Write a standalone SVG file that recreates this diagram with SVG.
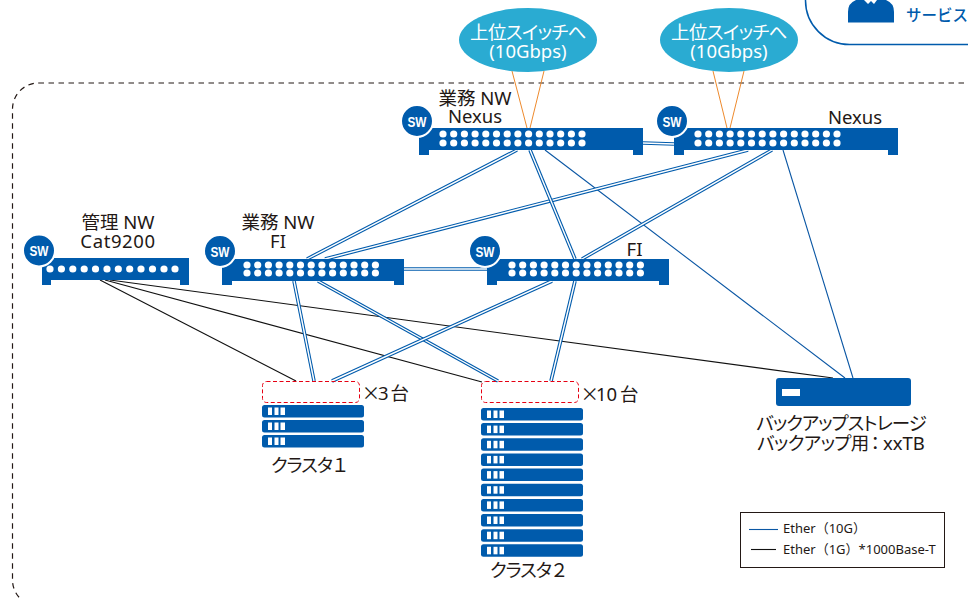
<svg xmlns="http://www.w3.org/2000/svg" width="968" height="600" viewBox="0 0 968 600">
<style>
text{font-family:"Noto Sans","Noto Sans CJK JP",sans-serif;font-size:18.5px;fill:#231815;text-anchor:middle;font-feature-settings:"palt"}
.sw{fill:#005BAC}
.dot{fill:#fff}
.swc{fill:#005BAC;stroke:#fff;stroke-width:2}
text.swt{font-family:"Liberation Sans",sans-serif;font-size:15px;font-weight:bold;fill:#fff;text-anchor:middle}
.or{stroke:#EE8A2D;stroke-width:1;fill:none}
.b1{stroke:#0B57A4;stroke-width:1.1;fill:none}
.k1{stroke:#111;stroke-width:1.1;fill:none}
.d1{stroke:#005BAC;stroke-width:3.6;fill:none}
.d2{stroke:#fff;stroke-width:1.4;fill:none}
.el{fill:#2AABD2}
text.elt{fill:#fff}
.srv{fill:#005BAC}
.win{fill:#fff}
.red{fill:none;stroke:#E60012;stroke-width:1;stroke-dasharray:4 2.5}
text.lg{font-size:13px;text-anchor:start;font-feature-settings:normal}
text.co{font-size:15.5px;font-weight:500;fill:#005BAC;text-anchor:start;font-feature-settings:normal}
text.st{text-anchor:start}
.fw{font-family:"Noto Sans CJK JP",sans-serif;font-feature-settings:normal}
</style>
<defs>
<path id="p2" d="M0 0H224V27H214V22H10V27H0Z" class="sw"/>
<g id="row14"><circle cx="0" r="3.6" class="dot"/><circle cx="10.7" r="3.6" class="dot"/><circle cx="21.4" r="3.6" class="dot"/><circle cx="32.1" r="3.6" class="dot"/><circle cx="42.8" r="3.6" class="dot"/><circle cx="53.5" r="3.6" class="dot"/><circle cx="64.2" r="3.6" class="dot"/><circle cx="74.9" r="3.6" class="dot"/><circle cx="85.6" r="3.6" class="dot"/><circle cx="96.3" r="3.6" class="dot"/><circle cx="107" r="3.6" class="dot"/><circle cx="117.7" r="3.6" class="dot"/><circle cx="128.4" r="3.6" class="dot"/></g>
<g id="srv"><rect width="102" height="12.5" rx="2.5" class="srv"/><rect x="6" y="2.5" width="4" height="7.5" class="win"/><rect x="12.5" y="2.5" width="4" height="7.5" class="win"/><rect x="18.5" y="2.5" width="4.5" height="7.5" class="win"/></g>
</defs>
<rect x="12.5" y="83" width="1000" height="523" rx="26" fill="none" stroke="#231815" stroke-width="1.2" stroke-dasharray="5.5 4.5"/>
<g id="connectors">
<path class="or" d="M512 71L527 128M544 71L530 128M713 71L727 128M744 71L730 128"/>
<path class="k1" d="M100 280L296 381M105 280L482 382M110 280L833 378"/>
<path class="b1" d="M545 150L845 378M783 150L853 378"/>
<path class="d1" d="M517 150L307 259"/><path class="d2" d="M517 150L307 259"/>
<path class="d1" d="M748 150L325 259"/><path class="d2" d="M748 150L325 259"/>
<path class="d1" d="M772 150L582 259"/><path class="d2" d="M772 150L582 259"/>
<path class="d1" d="M530 150L575 259"/><path class="d2" d="M530 150L575 259"/>
<path class="d1" d="M643 143L674 144"/><path class="d2" d="M643 143L674 144"/>
<path class="d1" d="M404 269H487"/><path class="d2" d="M404 269H487"/>
<path class="d1" d="M294 281L314 381"/><path class="d2" d="M294 281L314 381"/>
<path class="d1" d="M318 281L498 381"/><path class="d2" d="M318 281L498 381"/>
<path class="d1" d="M552 281L332 381"/><path class="d2" d="M552 281L332 381"/>
<path class="d1" d="M575 281L551 381"/><path class="d2" d="M575 281L551 381"/>
</g>
<g id="callout">
<rect x="805.500" y="-60" width="300" height="104.500" rx="44" fill="#fff" stroke="#005BAC" stroke-width="1.5"/>
<path d="M848 22.500V12Q848 3 856 0H864L868 4L871 1L874 4L877 0H886Q894 3 894 12V22.500Z" fill="#005BAC"/>
<text x="906" y="21" class="co">サービス</text>
</g>
<g id="uplink1"><ellipse cx="528" cy="40" rx="69" ry="32" class="el"/><text x="528" y="39" class="elt" letter-spacing="-0.6">上位スイッチへ</text><text x="528" y="58" class="elt">(10Gbps)</text></g>
<g id="uplink2"><ellipse cx="729" cy="40" rx="69" ry="32" class="el"/><text x="729" y="39" class="elt" letter-spacing="-0.6">上位スイッチへ</text><text x="729" y="58" class="elt">(10Gbps)</text></g>
<g id="nexus1">
<use href="#p2" x="419" y="128"/>
<use href="#row14" x="443" y="134"/><circle cx="582" cy="134" r="3.6" class="dot"/>
<use href="#row14" x="443" y="143"/><circle cx="582" cy="143" r="3.6" class="dot"/>
<circle cx="417" cy="121" r="16" class="swc"/><text x="417" y="126.500" class="swt" textLength="19" lengthAdjust="spacingAndGlyphs">SW</text>
<text x="475" y="105">業務 NW</text><text x="475" y="123">Nexus</text>
</g>
<g id="nexus2">
<use href="#p2" x="674" y="128"/>
<use href="#row14" x="698" y="134"/><circle cx="837" cy="134" r="3.6" class="dot"/>
<use href="#row14" x="698" y="143"/><circle cx="837" cy="143" r="3.6" class="dot"/>
<circle cx="672" cy="121" r="16" class="swc"/><text x="672" y="126.500" class="swt" textLength="19" lengthAdjust="spacingAndGlyphs">SW</text>
<text x="855" y="124">Nexus</text>
</g>
<g id="cat9200">
<path class="sw" d="M42 258H189V285H180V280H51V285H42Z"/>
<g class="dot"><circle cx="50" cy="269" r="3.6"/><circle cx="61.400" cy="269" r="3.6"/><circle cx="72.800" cy="269" r="3.6"/><circle cx="84.200" cy="269" r="3.6"/><circle cx="95.500" cy="269" r="3.6"/><circle cx="107" cy="269" r="3.6"/><circle cx="118.300" cy="269" r="3.6"/><circle cx="129.700" cy="269" r="3.6"/><circle cx="141" cy="269" r="3.6"/><circle cx="152.500" cy="269" r="3.6"/><circle cx="164" cy="269" r="3.6"/><circle cx="175" cy="269" r="3.6"/></g>
<circle cx="39" cy="250.500" r="16" class="swc"/><text x="39" y="256" class="swt" textLength="19" lengthAdjust="spacingAndGlyphs">SW</text>
<text x="118" y="229">管理 NW</text><text x="118" y="248" letter-spacing="0.6">Cat9200</text>
</g>
<g id="fi1">
<path class="sw" d="M222 259H404V285H394V281H232V285H222Z"/>
<use href="#row14" x="247" y="265"/>
<use href="#row14" x="247" y="273"/>
<circle cx="220" cy="251" r="16" class="swc"/><text x="220" y="256.500" class="swt" textLength="19" lengthAdjust="spacingAndGlyphs">SW</text>
<text x="278" y="229">業務 NW</text><text x="278" y="248">FI</text>
</g>
<g id="fi2">
<path class="sw" d="M487 259H669V285H659V281H497V285H487Z"/>
<use href="#row14" x="512" y="265"/>
<use href="#row14" x="512" y="273"/>
<circle cx="485" cy="251" r="16" class="swc"/><text x="485" y="256.500" class="swt" textLength="19" lengthAdjust="spacingAndGlyphs">SW</text>
<text x="634.500" y="256">FI</text>
</g>
<g id="cluster1">
<rect x="262.500" y="381.500" width="97" height="21" rx="4" class="red"/>
<text x="361.750" y="400" class="st"><tspan class="fw">×</tspan><tspan x="378">3</tspan><tspan x="390.500">台</tspan></text>
<use href="#srv" x="262" y="405"/><use href="#srv" x="262" y="420"/><use href="#srv" x="262" y="435"/>
<text x="271" y="472" class="st" letter-spacing="-1">クラスタ<tspan x="331" class="fw" letter-spacing="0">１</tspan></text>
</g>
<g id="cluster2">
<rect x="481.500" y="381.500" width="97" height="21" rx="4" class="red"/>
<text x="580.500" y="401" class="st"><tspan class="fw">×</tspan><tspan x="596">10</tspan><tspan x="620">台</tspan></text>
<use href="#srv" x="481" y="408"/><use href="#srv" x="481" y="423.100"/><use href="#srv" x="481" y="438.300"/><use href="#srv" x="481" y="453.400"/><use href="#srv" x="481" y="468.600"/><use href="#srv" x="481" y="483.700"/><use href="#srv" x="481" y="498.900"/><use href="#srv" x="481" y="514"/><use href="#srv" x="481" y="529.200"/><use href="#srv" x="481" y="544.300"/>
<text x="490" y="577" class="st" letter-spacing="-1">クラスタ<tspan x="550" class="fw" letter-spacing="0">２</tspan></text>
</g>
<g id="storage">
<rect x="776" y="378" width="135" height="28" rx="3" class="srv"/>
<rect x="782" y="389" width="18" height="7" class="win"/>
<text x="841" y="430" letter-spacing="-1">バックアップストレージ</text>
<text x="757" y="450" class="st" letter-spacing="-0.6">バックアップ用<tspan x="866" class="fw">：</tspan><tspan x="883" letter-spacing="0">xxTB</tspan></text>
</g>
<g id="legend">
<rect x="740.500" y="512.500" width="204" height="55" fill="#fff" stroke="#231815" stroke-width="1"/>
<path d="M749 529.500H778" class="b1"/><path d="M751 549.500H776" class="k1"/>
<text x="783" y="533" class="lg">Ether（10G）</text>
<text x="783" y="554" class="lg">Ether（1G）*1000Base-T</text>
</g>
</svg>
